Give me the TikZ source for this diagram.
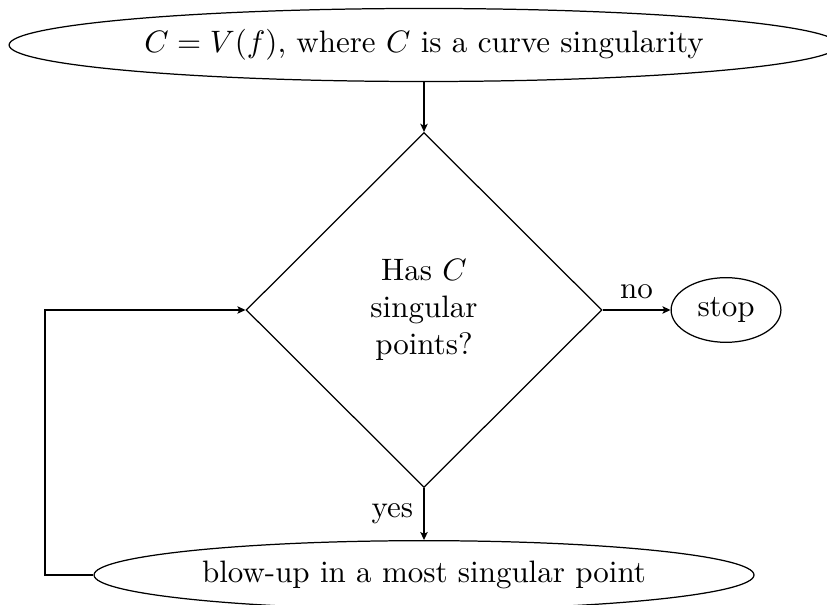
\documentclass[tikz,border=0pt]{standalone}
\usepackage{amsmath,amssymb}
\usepackage{tikz}
\usetikzlibrary{positioning,shapes.geometric,arrows.meta}
\begin{document}
\begin{tikzpicture}[x=0.3226pt,y=0.3226pt,>={Stealth[length=2.6pt,width=2.4pt,inset=0.6pt]},
  terminal/.style={draw,ellipse,inner sep=0.333em},
  decision/.style={draw,diamond,align=center,minimum width=114.8pt,minimum height=114.5pt,inner sep=0pt}]
  \useasboundingbox (0,0) rectangle (827,604);
  \node[terminal,minimum width=267.7pt,minimum height=22.6pt] (start) at (424,559) {$C=V(f)$, where $C$ is a curve singularity};
  \node[decision] (test) at (424,294) {Has $C$\\singular\\points?};
  \node[terminal] (stop) at (726,294) {stop};
  \node[terminal,minimum width=212.9pt,minimum height=20.6pt] (blowup) at (424,29) {blow-up in a most singular point};
  \coordinate (back) at (45,29);
  \draw[->] (start) -- (test);
  \draw[->] (test) -- node[above]{no} (stop);
  \draw[->] (test) -- node[left]{yes} (blowup);
  \draw[->] (blowup.west) -- (back) |- (test.west);
\end{tikzpicture}
\end{document}
